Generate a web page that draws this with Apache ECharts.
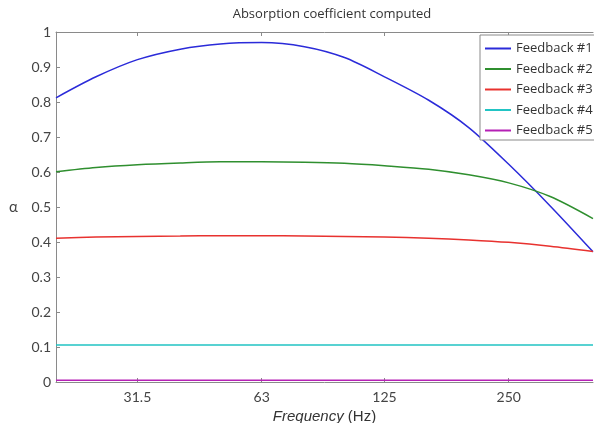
<!DOCTYPE html>
<html>
<head>
<meta charset="utf-8">
<script src="https://cdn.jsdelivr.net/npm/echarts@6/dist/echarts.min.js"></script>
<style>
  html, body { margin: 0; padding: 0; background: #fff; }
  #chart { width: 594px; height: 423px; }
</style>
</head>
<body>
<div id="chart"></div>
<script>
// third-octave frequencies (Hz)
var freqs = [20, 25, 31.5, 40, 50, 63, 80, 100, 125, 160, 200, 250, 315, 400];
var tickFreqs = [31.5, 63, 125, 250];

var fb1 = [0.812, 0.872, 0.921, 0.951, 0.966, 0.970, 0.958, 0.927, 0.872, 0.805, 0.727, 0.622, 0.503, 0.372];
var fb2 = [0.601, 0.613, 0.621, 0.626, 0.629, 0.629, 0.628, 0.625, 0.618, 0.608, 0.592, 0.569, 0.530, 0.467];
var fb3 = [0.411, 0.414, 0.416, 0.417, 0.418, 0.418, 0.417, 0.416, 0.414, 0.411, 0.406, 0.399, 0.388, 0.373];
var fb4 = [0.106, 0.106, 0.106, 0.106, 0.106, 0.106, 0.106, 0.106, 0.106, 0.106, 0.106, 0.106, 0.106, 0.106];
var fb5 = [0.005, 0.005, 0.005, 0.005, 0.005, 0.005, 0.005, 0.005, 0.005, 0.005, 0.005, 0.005, 0.005, 0.005];

var names = ['Feedback #1', 'Feedback #2', 'Feedback #3', 'Feedback #4', 'Feedback #5'];
var colors = ['#2b2bd9', '#2f8f2f', '#e8322f', '#22c4c4', '#b520b5'];
var values = [fb1, fb2, fb3, fb4, fb5];

function pairs(ys) {
  return freqs.map(function (f, i) { return [f, ys[i]]; });
}

var chart = echarts.init(document.getElementById('chart'));

var axisGray = '#8a8a8a';
var labelFont = 'Lato, "Open Sans", sans-serif';
var wideFont = '"Open Sans", Lato, sans-serif';

var option = {
  animation: false,
  backgroundColor: '#fff',
  title: {
    text: 'Absorption coefficient computed',
    left: 327,
    textAlign: 'center',
    top: 3,
    textStyle: { fontFamily: wideFont, fontSize: 13, fontWeight: 'normal', color: '#333' }
  },
  grid: { left: 56, top: 32, right: 1, bottom: 41, outerBoundsMode: 'none', containLabel: false },
  legend: {
    data: names,
    orient: 'vertical',
    left: 480,
    top: 35,
    padding: [7, 10, 3, 5],
    itemGap: 7.5,
    itemWidth: 26,
    itemHeight: 2,
    icon: 'rect',
    backgroundColor: '#fff',
    borderColor: axisGray,
    borderWidth: 1,
    textStyle: { fontFamily: wideFont, fontSize: 13, color: '#333' }
  },
  xAxis: [{
    type: 'log',
    logBase: 2,
    min: 20,
    max: 400,
    name: '{i|Frequency} (Hz)',
    nameLocation: 'middle',
    nameGap: 21,
    nameTextStyle: {
      fontFamily: 'Liberation Sans, Arial, sans-serif',
      fontSize: 15,
      color: '#333',
      rich: {
        i: { fontStyle: 'italic', fontFamily: 'Liberation Sans, Arial, sans-serif', fontSize: 15, color: '#333' }
      }
    },
    axisLine: { lineStyle: { color: axisGray, width: 1 } },
    axisTick: { inside: true, length: 4, customValues: tickFreqs, lineStyle: { color: axisGray } },
    axisLabel: {
      customValues: tickFreqs,
      formatter: function (v) { return String(v); },
      fontFamily: labelFont, fontSize: 14, color: '#444', margin: 8
    },
    splitLine: { show: false }
  }, {
    type: 'log',
    logBase: 2,
    min: 20,
    max: 400,
    position: 'top',
    axisLine: { lineStyle: { color: axisGray, width: 1 } },
    axisTick: { inside: true, length: 4, customValues: tickFreqs, lineStyle: { color: axisGray } },
    axisLabel: { show: false },
    splitLine: { show: false }
  }],
  yAxis: {
    type: 'value',
    min: 0,
    max: 1,
    interval: 0.1,
    name: 'α',
    nameLocation: 'middle',
    nameGap: 38,
    nameRotate: 0,
    nameTextStyle: { fontFamily: labelFont, fontSize: 15, color: '#444' },
    axisLine: { show: true, lineStyle: { color: axisGray, width: 1 } },
    axisTick: { show: true, inside: true, length: 4, lineStyle: { color: axisGray } },
    axisLabel: { fontFamily: labelFont, fontSize: 14, color: '#444', margin: 5 },
    splitLine: { show: false }
  },
  series: names.map(function (n, i) {
    return {
      name: n,
      type: 'line',
      data: pairs(values[i]),
      smooth: 0.3,
      showSymbol: false,
      color: colors[i],
      lineStyle: { width: 1.5, color: colors[i] },
      clip: true
    };
  })
};

chart.setOption(option);
</script>
</body>
</html>
